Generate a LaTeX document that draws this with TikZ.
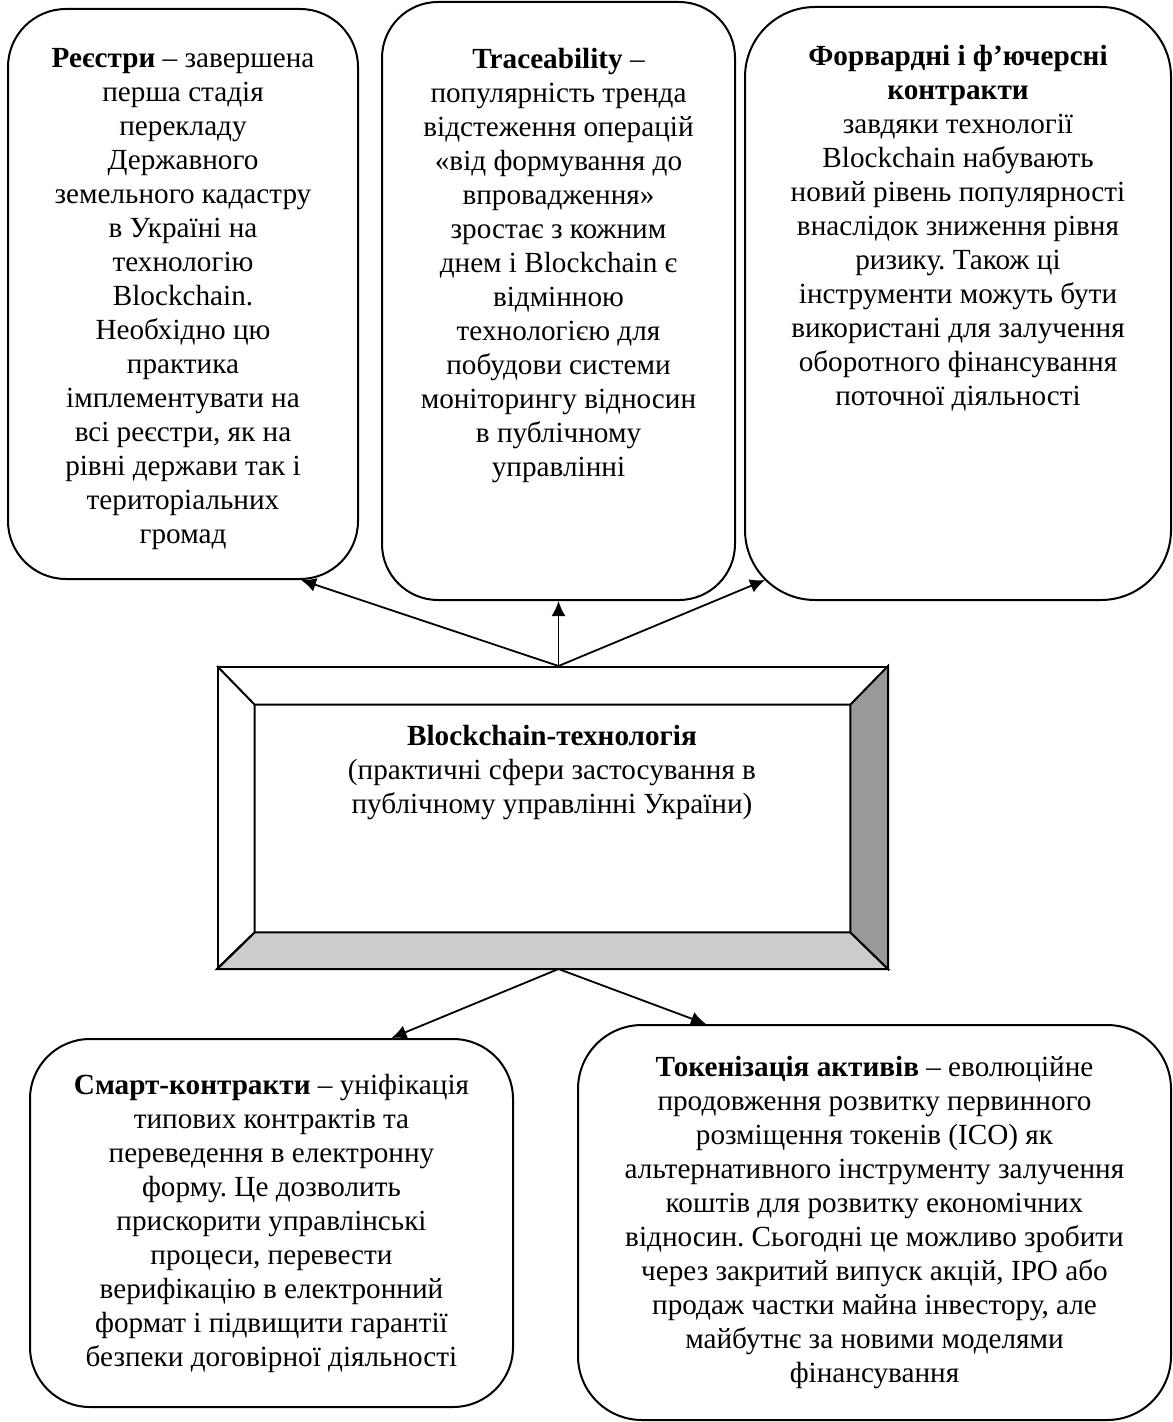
\documentclass[tikz,border=0pt]{standalone}
\usepackage{fontspec}
\setmainfont{Liberation Serif}
\usetikzlibrary{arrows.meta,calc}
\frenchspacing
\definecolor{faceB}{HTML}{CCCCCC}
\definecolor{faceR}{HTML}{999999}
\tikzset{
  panel/.style={draw, line width=1pt, rounded corners=29pt, inner sep=0pt},
  txt/.style={align=center, inner sep=0pt, font=\fontsize{14.6}{17}\selectfont},
  link/.style={line width=0.9pt, -{Latex[length=7.5pt,width=7pt]}},
}
\begin{document}
\begin{tikzpicture}[x=0.5pt,y=-0.5pt]
\useasboundingbox (0,0) rectangle (1172,1422);

% upper row
\node[panel, minimum width=175pt, minimum height=285pt] (reg) at (183,294) {};
\node[panel, minimum width=176.5pt, minimum height=299pt, rounded corners=28pt] (trace) at (558.5,301) {};
\node[panel, minimum width=213pt, minimum height=296.5pt, rounded corners=35pt] (fwd) at (958,303.5) {};

\node[txt, anchor=north] (regtxt) at (183,48) {\textbf{Реєстри} – завершена\\ перша стадія\\ перекладу\\ Державного\\ земельного кадастру\\ в Україні на\\ технологію\\ Blockchain.\\ Необхідно цю\\ практика\\ імплементувати на\\ всі реєстри, як на\\ рівні держави так і\\ територіальних\\ громад};
\node[txt, anchor=north] (tracetxt) at (558.5,48) {\textbf{Traceability} –\\ популярність тренда\\ відстеження операцій\\ «від формування до\\ впровадження»\\ зростає з кожним\\ днем і Blockchain є\\ відмінною\\ технологією для\\ побудови системи\\ моніторингу відносин\\ в публічному\\ управлінні};
\node[txt, anchor=north] (fwdtxt) at (958,45) {\textbf{Форвардні і ф’ючерсні}\\ \textbf{контракти}\\ завдяки технології\\ Blockchain набувають\\ новий рівень популярності\\ внаслідок зниження рівня\\ ризику. Також ці\\ інструменти можуть бути\\ використані для залучення\\ оборотного фінансування\\ поточної діяльності};

% central bevelled frame
\node[draw, line width=1pt, inner sep=0pt, minimum width=334.5pt, minimum height=150.5pt] (core) at (552.5,817.5) {};
\node[inner sep=0pt, minimum width=297.5pt, minimum height=113.5pt] (corein) at (552.5,818.5) {};
\filldraw[line width=1pt, fill=faceB] (core.south west) -- (core.south east) -- (corein.south east) -- (corein.south west) -- cycle;
\filldraw[line width=1pt, fill=faceR] (core.north east) -- (core.south east) -- (corein.south east) -- (corein.north east) -- cycle;
\draw[line width=1pt] (core.north west) -- (corein.north west) -- (corein.north east);
\draw[line width=1pt] (corein.north west) -- (corein.south west) -- (core.south west);
\node[txt, anchor=north] (coretxt) at (552,725) {\textbf{Blockchain-технологія}\\ (практичні сфери застосування в\\ публічному управлінні України)};

% lower row
\node[panel, txt, minimum width=241.5pt, minimum height=184pt, rounded corners=30pt] (smart) at (271.5,1223) {\textbf{Смарт-контракти} – уніфікація\\ типових контрактів та\\ переведення в електронну\\ форму. Це дозволить\\ прискорити управлінські\\ процеси, перевести\\ верифікацію в електронний\\ формат і підвищити гарантії\\ безпеки договірної діяльності};
\node[panel, txt, minimum width=296.5pt, minimum height=197.5pt, rounded corners=32pt] (token) at (874.5,1222.5) {\textbf{Токенізація активів} – еволюційне\\ продовження розвитку первинного\\ розміщення токенів (ICO) як\\ альтернативного інструменту залучення\\ коштів для розвитку економічних\\ відносин. Сьогодні це можливо зробити\\ через закритий випуск акцій, IPO або\\ продаж частки майна інвестору, але\\ майбутнє за новими моделями\\ фінансування};

% arrows
\coordinate (up) at (core.north -| trace.south);
\coordinate (down) at (core.south -| trace.south);
\draw[link] (up) -- ($(reg.south east)+(-58,0)$);
\draw[link] (up) -- (trace.south);
\draw[link] (up) -- ($(fwd.south west)+(21,-21)$);
\draw[link] (down) -- ($(smart.north)+(120,0)$);
\draw[link] (down) -- ($(token.north west)+(129,0)$);
\end{tikzpicture}
\end{document}
